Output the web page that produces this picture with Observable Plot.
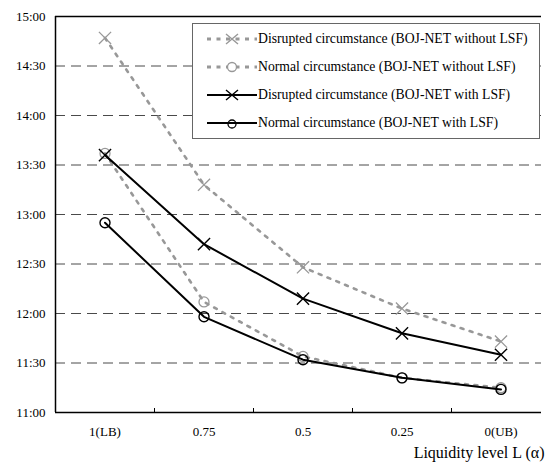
<!DOCTYPE html>
<html>
<head>
<meta charset="utf-8">
<script src="https://cdn.jsdelivr.net/npm/d3@7"></script>
<script src="https://cdn.jsdelivr.net/npm/@observablehq/plot@0.6"></script>
<style>
  html, body { margin: 0; padding: 0; background: white; overflow: hidden; }
  #wrap { position: relative; width: 546px; height: 465px; font-family: "Liberation Serif", "Times New Roman", Tinos, "DejaVu Serif", serif; }
  #legend { position: absolute; left: 192px; top: 23px; width: 346px; height: 113px; border: 1px solid #666; background: white; padding-top: 1px; box-sizing: content-box; }
  .row { position: relative; height: 28px; font-size: 13.7px; line-height: 28px; color: #000; white-space: nowrap; }
  .row svg { position: absolute; left: 14px; top: 7px; }
  .row span { position: absolute; left: 65px; }
  svg text { font-family: "Liberation Serif", "Times New Roman", Tinos, "DejaVu Serif", serif; }
</style>
</head>
<body>
<div id="wrap"><div id="chart"></div><div id="legend"></div></div>
<script>
const categories = ["1(LB)", "0.75", "0.5", "0.25", "0(UB)"];
const yTickLabels = ["11:00", "11:30", "12:00", "12:30", "13:00", "13:30", "14:00", "14:30", "15:00"];

const disruptedWithout = ["14:47", "13:18", "12:28", "12:03", "11:43"];
const normalWithout    = ["13:37", "12:07", "11:34", "11:21", "11:15"];
const disruptedWith    = ["13:36", "12:42", "12:09", "11:48", "11:35"];
const normalWith       = ["12:55", "11:58", "11:32", "11:21", "11:14"];

const seriesNames = [
  "Disrupted circumstance (BOJ-NET without LSF)",
  "Normal circumstance (BOJ-NET without LSF)",
  "Disrupted circumstance (BOJ-NET with LSF)",
  "Normal circumstance (BOJ-NET with LSF)"
];

const toMin = s => { const [h, m] = s.split(":").map(Number); return h * 60 + m; };
const fmt = v => `${Math.floor(v / 60)}:${String(v % 60).padStart(2, "0")}`;

const series = [
  {name: seriesNames[0], values: disruptedWithout, gray: true, symbol: "times"},
  {name: seriesNames[1], values: normalWithout, gray: true, symbol: "circle"},
  {name: seriesNames[2], values: disruptedWith, gray: false, symbol: "times"},
  {name: seriesNames[3], values: normalWith, gray: false, symbol: "circle"}
];
const rows = series.map(s => s.values.map((v, i) => ({name: s.name, i, v: toMin(v)})));

const yTicks = yTickLabels.map(toMin);
const yMin = d3.min(yTicks), yMax = d3.max(yTicks);
const gridTicks = yTicks.filter(t => t !== yMin && t !== yMax);
const xIdx = categories.map((c, i) => i);
const bandEdges = xIdx.slice(1).map(i => i - 0.5);

const FONT = '"Liberation Serif", "Times New Roman", Tinos, "DejaVu Serif", serif';
const GRAY = "#989898";
const marks = [
  Plot.ruleY(gridTicks, {stroke: "#4a4a4a", strokeWidth: 1, strokeDasharray: "10,6"}),
  Plot.ruleY([yMax], {stroke: "#000", strokeWidth: 1.3}),
  Plot.ruleY([yMin], {stroke: "#000", strokeWidth: 1.5}),
  Plot.ruleX([-0.5], {stroke: "#000", strokeWidth: 1.5}),
  Plot.axisY({ticks: yTicks, tickFormat: fmt, tickSize: 0, tickPadding: 10, fontSize: 13, label: null}),
  Plot.axisX({ticks: xIdx, tickFormat: i => categories[i], tickSize: 0, tickPadding: 14, fontSize: 13, label: null}),
  Plot.axisX({ticks: bandEdges, tickFormat: () => "", tickSize: -4, stroke: "#000", label: null}),
];
series.forEach((s, k) => {
  const d = rows[k];
  if (s.gray) {
    marks.push(Plot.line(d, {x: "i", y: "v", stroke: GRAY, strokeWidth: 2.6, strokeDasharray: "3,6.5"}));
    marks.push(Plot.dot(d, {x: "i", y: "v", symbol: s.symbol, r: s.symbol === "times" ? 5.6 : 5, stroke: GRAY, strokeWidth: 1.3, fill: "none"}));
  }
});
series.forEach((s, k) => {
  const d = rows[k];
  if (!s.gray) {
    marks.push(Plot.line(d, {x: "i", y: "v", stroke: "#000", strokeWidth: 2}));
    marks.push(Plot.dot(d, {x: "i", y: "v", symbol: s.symbol, r: s.symbol === "times" ? 5.6 : 5, stroke: "#000", strokeWidth: 1.4, fill: "none"}));
  }
});
marks.push(Plot.text(["Liquidity level L (α)"], {frameAnchor: "bottom-right", textAnchor: "end", dx: 3, dy: 45, fontSize: 16, fill: "#000"}));

const chart = Plot.plot({
  width: 546,
  height: 465,
  marginLeft: 55,
  marginRight: 5,
  marginTop: 16,
  marginBottom: 53,
  x: {type: "linear", domain: [-0.5, categories.length - 0.5], range: [55, 550], label: null},
  y: {domain: [yMin, yMax], label: null},
  style: {fontFamily: FONT, fontSize: "13px", color: "#000", background: "white", overflow: "visible"},
  marks
});
chart.style.maxWidth = "none";
document.getElementById("chart").appendChild(chart);

const legend = document.getElementById("legend");
series.forEach(s => {
  const row = document.createElement("div");
  row.className = "row";
  const col = s.gray ? GRAY : "#000";
  const dash = s.gray ? 'stroke-dasharray="4,5.5"' : "";
  const sw = s.gray ? 3 : 2;
  const mk = s.symbol === "times"
    ? `<path d="M19,2L31,12M31,2L19,12" stroke="${col}" stroke-width="1.4" fill="none"/>`
    : `<circle cx="25" cy="${s.gray ? 7 : 8}" r="${s.gray ? 4.5 : 4}" stroke="${col}" stroke-width="1.3" fill="${s.gray ? 'white' : 'none'}"/>`;
  row.innerHTML = `<svg width="52" height="14"><line x1="0" y1="7" x2="50" y2="7" stroke="${col}" stroke-width="${sw}" ${dash}/>${mk}</svg><span>${s.name}</span>`;
  legend.appendChild(row);
});
</script>
</body>
</html>
